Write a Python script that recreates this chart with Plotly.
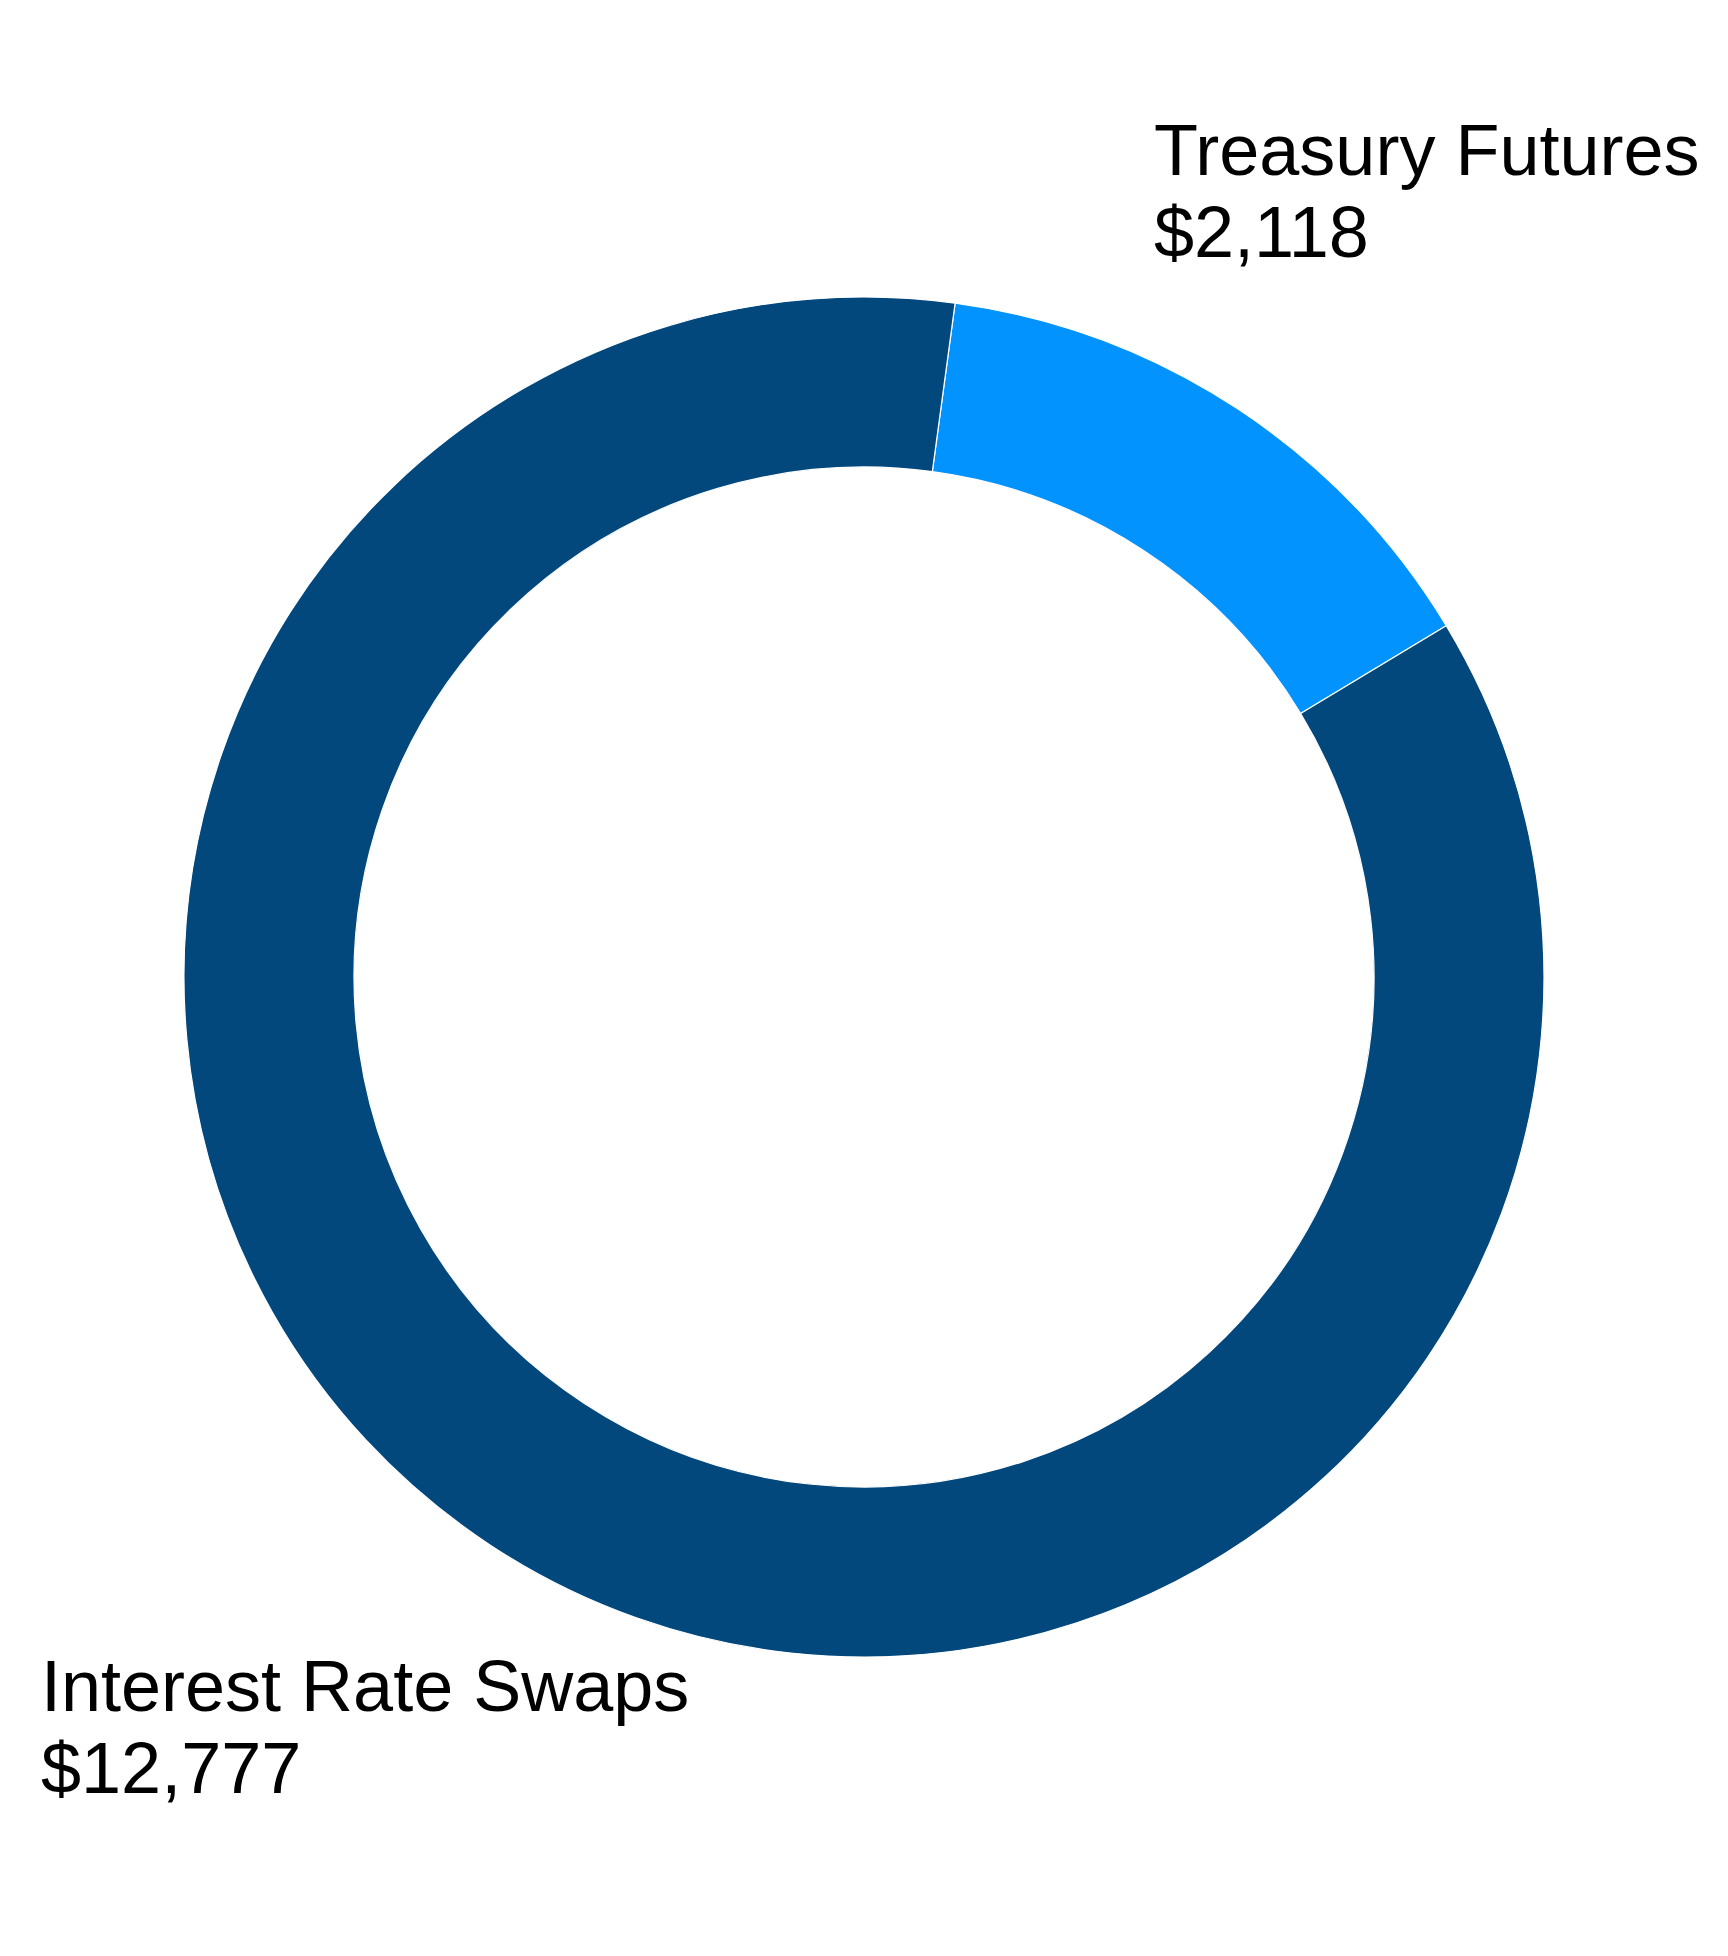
import plotly.graph_objects as go

labels = ["Treasury Futures", "Interest Rate Swaps"]
values = [2118, 12777]
colors = ["#0393FF", "#03487C"]

W, H = 1728, 1956

cx, cy_bottom, r = 856, 987, 680
fig = go.Figure(go.Pie(
    labels=labels,
    values=values,
    hole=0.75,
    sort=False,
    direction="clockwise",
    rotation=7.7,
    marker=dict(colors=colors, line=dict(color="white", width=1.2)),
    textinfo="none",
    hoverinfo="label+value",
    showlegend=False,
    domain=dict(x=[(cx - r) / W, (cx + r) / W], y=[(cy_bottom - r) / H, (cy_bottom + r) / H]),
))

font = dict(family="Liberation Sans, Arial, sans-serif", size=72, color="black")
pos = {
    "Treasury Futures": (1144, 168),
    "Interest Rate Swaps": (31, 1704),
}
line_gap = 82
for lab, val in zip(labels, values):
    x, yb = pos[lab]
    for i, txt in enumerate([lab, f"${val:,}"]):
        base = yb + i * line_gap
        fig.add_annotation(
            x=x / W, y=1 - (base + 16) / H, xref="paper", yref="paper",
            xanchor="left", yanchor="bottom", text=txt, showarrow=False,
            font=font,
        )

fig.update_layout(
    width=W, height=H,
    margin=dict(l=0, r=0, t=0, b=0),
    paper_bgcolor="white", plot_bgcolor="white",
)

fig.write_html("out.html")
